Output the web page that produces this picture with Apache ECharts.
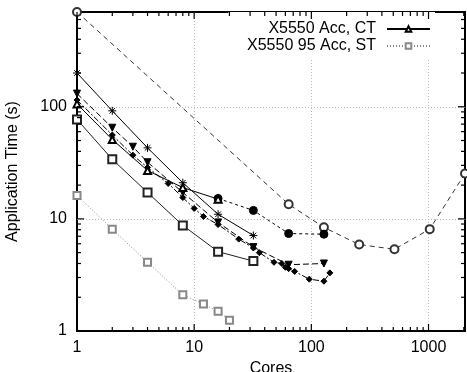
<!DOCTYPE html>
<html>
<head>
<meta charset="utf-8">
<script src="https://cdn.jsdelivr.net/npm/echarts@6/dist/echarts.min.js"></script>
<style>
  html, body { margin: 0; padding: 0; background: #fff; }
  #chart { width: 467px; height: 372px; }
</style>
</head>
<body>
<div id="chart"></div>
<script>
// axis ticks
const xMajorTicks = [1, 10, 100, 1000]
const xMinorTicks = [2, 3, 4, 5, 6, 7, 8, 9, 20, 30, 40, 50, 60, 70, 80, 90, 200, 300, 400, 500, 600, 700, 800, 900, 2000]
const yMajorTicks = [1, 10, 100]
const yMinorTicks = [2, 3, 4, 5, 6, 7, 8, 9, 20, 30, 40, 50, 60, 70, 80, 90, 200, 300, 400, 500, 600]
const xMax = 2048
const yMax = 700

// series (cores -> seconds)
const ctCores = [1, 2, 4, 8, 16]
const ctTime = [106, 51, 27, 19, 15]
const stCores = [1, 2, 4, 8, 12, 16, 20]
const stTime = [16.2, 8.1, 4.1, 2.1, 1.74, 1.5, 1.25]
const starCores = [1, 2, 4, 8, 16, 32]
const starTime = [200, 92, 43, 21, 11, 7.1]
const sqCores = [1, 2, 4, 8, 16, 32]
const sqTime = [77, 34, 17.2, 8.75, 5.1, 4.2]
const circCores = [1, 64, 128, 256, 512, 1024, 2048]
const circTime = [700, 13.5, 8.4, 5.9, 5.36, 8.1, 25.4]
const dotCores = [16, 32, 64, 128]
const dotTime = [15.2, 11.9, 7.4, 7.3]
const downCores = [1, 2, 3, 4, 8, 16, 32, 64, 128]
const downTime = [131, 65, 44, 32, 17.2, 9.3, 5.6, 3.9, 4.0]
const diaCores = [1, 2, 3, 4, 6, 8, 10, 12, 16, 24, 32, 36, 48, 56, 60, 64, 72, 96, 128, 144]
const diaTime = [115, 56, 37, 28.7, 20.7, 15.5, 12.4, 10.5, 8.9, 6.6, 5.5, 5.0, 4.1, 4.0, 3.7, 3.6, 3.4, 2.9, 2.78, 3.3]

const FONT = "'Liberation Sans', Arial, sans-serif"
const pairs = (xs, ys) => xs.map((c, i) => [c, ys[i]])
const splitGrid = () => ({ show: true, showMinLine: false, showMaxLine: false, lineStyle: { color: '#bbb', type: [1, 2], width: 1 } })
const label = (ticks, margin) => ({
  fontSize: 16, color: '#000', margin: margin, fontFamily: FONT,
  formatter: v => (ticks.indexOf(Math.round(v)) >= 0 ? String(Math.round(v)) : ''),
})

const line = (name, xs, ys, sym, size, color, type, extra) => Object.assign({
  name: name,
  type: 'line',
  data: pairs(xs, ys),
  symbol: sym,
  symbolSize: size,
  showSymbol: true,
  lineStyle: { color: color, width: 1, type: type },
  itemStyle: { color: color, borderColor: color, borderWidth: 1 },
  emphasis: { disabled: true },
}, extra || {})

// gnuplot style inner ticks on all four sides, placed through the log axes
const ticks = (vals, dim, len) => ({
  type: 'custom',
  silent: true,
  z: 10,
  data: vals.map(v => (dim === 'x' ? [v, 1] : [1, v])),
  renderItem: (params, api) => {
    const p = api.coord([api.value(0), api.value(1)])
    const cs = params.coordSys
    const st = { stroke: '#000', lineWidth: 1.2 }
    if (dim === 'x') {
      const b = cs.y + cs.height
      return { type: 'group', children: [
        { type: 'line', shape: { x1: p[0], y1: b, x2: p[0], y2: b - len }, style: st },
        { type: 'line', shape: { x1: p[0], y1: cs.y, x2: p[0], y2: cs.y + len }, style: st },
      ] }
    }
    const r = cs.x + cs.width
    return { type: 'group', children: [
      { type: 'line', shape: { x1: cs.x, y1: p[1], x2: cs.x + len, y2: p[1] }, style: st },
      { type: 'line', shape: { x1: r, y1: p[1], x2: r - len, y2: p[1] }, style: st },
    ] }
  },
})

const chart = echarts.init(document.getElementById('chart'))
chart.setOption({
  animation: false,
  backgroundColor: '#fff',
  textStyle: { fontFamily: FONT },
  grid: {
    left: 77, right: 2, top: 12, bottom: 41, outerBoundsMode: 'none', containLabel: false,
    show: true, borderColor: '#000', borderWidth: 2, backgroundColor: 'transparent',
  },
  legend: [
    {
      data: ['X5550 Acc, CT'], right: 32, top: 12, orient: 'vertical', align: 'right',
      itemWidth: 43, itemHeight: 7, padding: [9, 4, 6, 40], backgroundColor: '#fff',
      textStyle: { fontSize: 16, color: '#000', fontFamily: FONT, padding: [0, 6, 0, 0] },
      selectedMode: false,
    },
    {
      data: ['X5550 95 Acc, ST'], right: 32, top: 34, orient: 'vertical', align: 'right',
      itemWidth: 43, itemHeight: 7, padding: [4, 4, 5, 40], backgroundColor: '#fff',
      textStyle: { fontSize: 16, color: '#000', fontFamily: FONT, padding: [0, 6, 0, 0] },
      selectedMode: false,
    },
  ],
  xAxis: {
    type: 'log', position: 'bottom', min: 1, max: xMax, logBase: 10,
    name: 'Cores', nameLocation: 'middle', nameGap: 30,
    nameTextStyle: { fontSize: 16, color: '#000', fontFamily: FONT },
    axisLine: { show: false, onZero: false }, axisTick: { show: false },
    axisLabel: label(xMajorTicks, 9), splitLine: splitGrid(),
  },
  yAxis: {
    type: 'log', position: 'left', min: 1, max: yMax, logBase: 10,
    name: 'Application Time (s)', nameLocation: 'middle', nameGap: 56, nameRotate: 90,
    nameTextStyle: { fontSize: 16, color: '#000', fontFamily: FONT },
    axisLine: { show: false, onZero: false }, axisTick: { show: false },
    axisLabel: label(yMajorTicks, 10), splitLine: splitGrid(),
  },
  series: [
    line('circles', circCores, circTime, 'emptyCircle', 8, '#333', [5, 4]),
    line('bigdots', dotCores, dotTime, 'circle', 8, '#000', [3, 3]),
    line('down', downCores, downTime, 'triangle', 7, '#000', [6, 3], { symbolRotate: 180 }),
    line('diamonds', diaCores, diaTime, 'diamond', 6, '#000', [6, 2, 2, 2]),
    line('stars', starCores, starTime, 'path://M5,0L5,10M0,5L10,5M1.5,1.5L8.5,8.5M1.5,8.5L8.5,1.5', 8, '#000', 'solid'),
    line('squares', sqCores, sqTime, 'emptyRect', 8, '#222', 'solid'),
    line('X5550 Acc, CT', ctCores, ctTime, 'emptyTriangle', 7, '#000', 'solid'),
    line('X5550 95 Acc, ST', stCores, stTime, 'emptyRect', 7, '#888', [1, 2]),
    ticks(xMajorTicks, 'x', 7),
    ticks(xMinorTicks, 'x', 4),
    ticks(yMajorTicks, 'y', 7),
    ticks(yMinorTicks, 'y', 4),
  ],
})
</script>
</body>
</html>
